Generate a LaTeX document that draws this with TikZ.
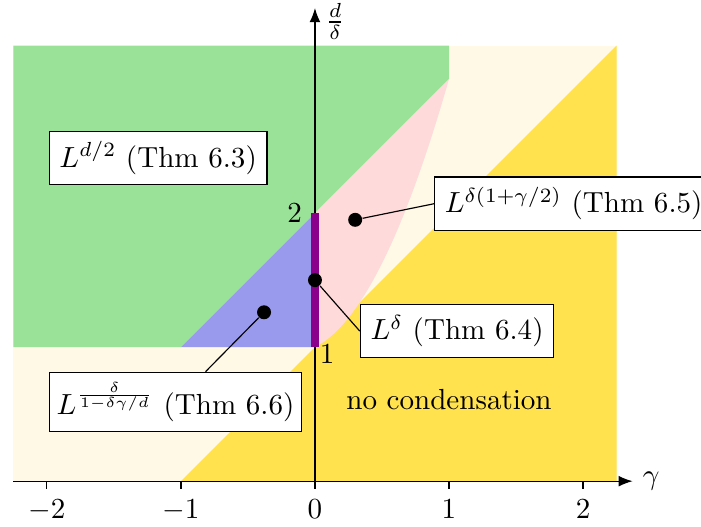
\documentclass[tikz,border=0pt]{standalone}
\usepackage{amsmath}
\usepackage{amssymb}
\usepackage{tikz}
\usetikzlibrary{calc,arrows.meta}

\definecolor{creamreg}{RGB}{255,249,230}
\definecolor{yellowreg}{RGB}{255,226,77}
\definecolor{greenreg}{RGB}{155,226,153}
\definecolor{bluereg}{RGB}{153,153,238}
\definecolor{pinkreg}{RGB}{255,218,218}
\definecolor{purplebar}{RGB}{139,0,139}

\begin{document}
\begin{tikzpicture}[x=1.62cm,y=1.62cm,
    thmbox/.style={draw, rectangle, fill=white, inner sep=3.5pt},
    dot/.style={fill, circle, inner sep=1.7pt},
    axisarrow/.style={-{Latex[length=1.7mm,width=1.3mm]}}]
        \useasboundingbox (-2.35,-0.34) rectangle (2.88,3.59);
        % Regions
        \fill[creamreg] (-2.25,0) rectangle (2.25,3.25);
        \fill[yellowreg] (-1,0) -- (2.25,0) -- (2.25,3.25) -- cycle;
        \fill[greenreg] (-2.25,1) -- (-1,1) -- (1,3) -- (1,3.25) -- (-2.25,3.25) -- cycle;
        \fill[bluereg] (-1,1) -- (0,1) -- (0,2) -- cycle;
        \fill[pinkreg] (0,1) -- plot[domain=0:1, samples=40] (\x,{1+0.5*\x+1.5*\x*\x}) -- (0,2) -- cycle;

        % Axes
        \draw[axisarrow] (-2.25,0) -- (2.37,0) node[right]{$\gamma$};
        \draw[axisarrow] (0,0) -- (0,3.53);
        \node (ylab) at (0.15,3.43) {$\frac{d}{\delta}$};
        \foreach \t in {-2,-1,0,1,2}
            \draw (\t,0) -- (\t,-0.06) node[below]{$\t$};
        \node (one) at (0.09,0.95) {$1$};
        \node[left] (two) at (-0.02,2) {$2$};

        % Purple bar on the axis
        \fill[purplebar] (-0.03,1) rectangle (0.03,2);

        % Points
        \node[dot] (p5) at (0.3,1.95) {};
        \node[dot] (p4) at (0,1.5) {};
        \node[dot] (p6) at (-0.38,1.26) {};

        % Labels
        \node[thmbox] (t3) at (-1.17,2.41) {$L^{d/2}$ (Thm 6.3)};
        \node[thmbox] (t5) at (1.93,2.07) {$L^{\delta(1+\gamma/2)}$ (Thm 6.5)};
        \node[thmbox] (t4) at (1.06,1.12) {$L^{\delta}$ (Thm 6.4)};
        \node[thmbox, inner xsep=2.5pt] (t6) at (-1.04,0.59) {$L^{\frac{\delta}{1-\delta\gamma/d}}$ (Thm 6.6)};
        \node (nc) at (1.0,0.61) {no condensation};

        % Pointers
        \draw (p5) -- (t5.west);
        \draw (p4) -- (t4.west);
        \draw (p6) -- (t6);
    \end{tikzpicture}
\end{document}
